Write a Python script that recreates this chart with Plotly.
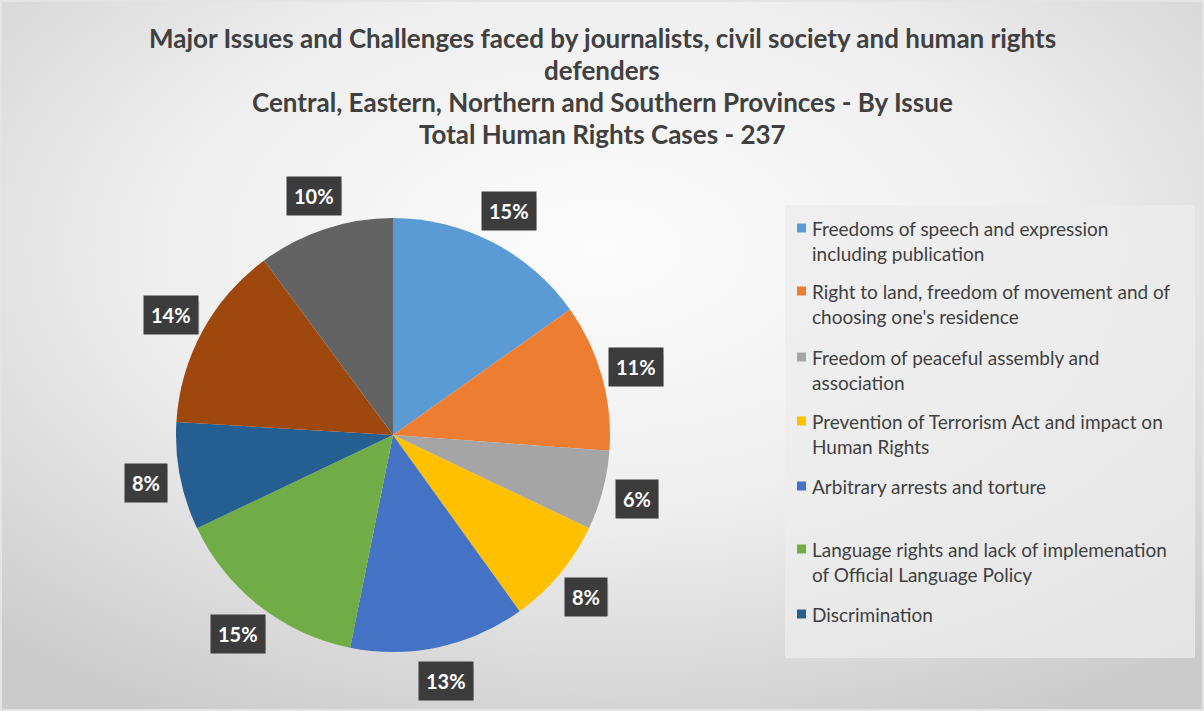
import math
import base64
import plotly.graph_objects as go

# ---------------- data ----------------
categories = [
    "Freedoms of speech and expression including publication",
    "Right to land, freedom of movement and of choosing one's residence",
    "Freedom of peaceful assembly and association",
    "Prevention of Terrorism Act and impact on Human Rights",
    "Arbitrary arrests and torture",
    "Language rights and lack of implemenation of Official Language Policy",
    "Discrimination",
    "Other issue 8",
    "Other issue 9",
]
cases = [36, 26, 14, 19, 31, 35, 19, 33, 24]
colors = ["#5B9BD5", "#ED7D31", "#A5A5A5", "#FFC000", "#4472C4",
          "#70AD47", "#255E91", "#9E480E", "#636363"]
legend_texts = [
    "Freedoms of speech and expression<br>including publication",
    "Right to land, freedom of movement and of<br>choosing one's residence",
    "Freedom of peaceful assembly and<br>association",
    "Prevention of Terrorism Act and impact on<br>Human Rights",
    "Arbitrary arrests and torture",
    "Language rights and lack of implemenation<br>of Official Language Policy",
    "Discrimination",
]
title_lines = [
    "Major Issues and Challenges faced by journalists, civil society and human rights",
    "defenders",
    "Central, Eastern, Northern and Southern Provinces - By Issue",
    "Total Human Rights Cases - 237",
]

W, H = 1204, 711
FONT = "Lato"

# pie geometry (pixels)
cx, cy, R = 393, 435, 217
dom_x = [(cx - R) / W, (cx + R) / W]
dom_y = [1 - (cy + R) / H, 1 - (cy - R) / H]

fig = go.Figure()
fig.add_trace(go.Pie(
    labels=categories, values=cases, sort=False, direction="clockwise",
    rotation=0, marker=dict(colors=colors, line=dict(color="white", width=0)),
    textinfo="none", hoverinfo="label+value+percent", showlegend=False,
    domain=dict(x=dom_x, y=dom_y),
))

# background radial gradient
svg = f'''<svg xmlns="http://www.w3.org/2000/svg" width="{W}" height="{H}">
<defs><radialGradient id="g" cx="50%" cy="35%" r="75%">
<stop offset="0%" stop-color="#fcfcfc"/>
<stop offset="50%" stop-color="#eeeeee"/>
<stop offset="100%" stop-color="#cbcbcb"/>
</radialGradient></defs>
<rect width="{W}" height="{H}" fill="url(#g)"/>
<rect x="1" y="1" width="{W-2}" height="{H-2}" fill="none" stroke="#e4e4e4" stroke-width="2"/>
</svg>'''
src = "data:image/svg+xml;base64," + base64.b64encode(svg.encode()).decode()

annotations = []
shapes = []

# title lines
ty = [38, 70, 102, 134]
for t, y in zip(title_lines, ty):
    annotations.append(dict(text=t, x=602 / W, y=1 - y / H, xref="paper", yref="paper",
                            xanchor="center", yanchor="middle", showarrow=False,
                            font=dict(family=FONT, size=26, color="#404040", weight="bold")))

# data labels
total = sum(cases)
cum = 0
for v in cases:
    mid = (cum + v / 2) / total * 2 * math.pi
    cum += v
    lr = 252
    px = cx + lr * math.sin(mid)
    py = cy - lr * math.cos(mid)
    pct = f"{round(100 * v / total)}%"
    hw = 25 if len(pct) == 3 else 19
    hh = 16
    # soft shadow behind the label box
    shapes.append(dict(type="rect", xref="paper", yref="paper",
                       x0=(px - hw + 3) / W, x1=(px + hw + 3) / W,
                       y0=1 - (py + hh + 3) / H, y1=1 - (py - hh + 3) / H,
                       fillcolor="rgba(0,0,0,0.14)", line=dict(width=0)))
    annotations.append(dict(text=pct, x=px / W, y=1 - py / H, xref="paper", yref="paper",
                            showarrow=False, xanchor="center", yanchor="middle",
                            bgcolor="#3c3c3c", borderpad=7,
                            font=dict(family=FONT, size=20, color="white", weight="bold")))

# legend box
shapes.append(dict(type="rect", xref="paper", yref="paper", x0=785 / W, x1=1195 / W,
                   y0=1 - 658 / H, y1=1 - 205 / H, fillcolor="rgba(236,236,236,0.75)",
                   line=dict(width=0), layer="below"))
entry_y = [228, 291, 357, 421, 486, 549, 614]
for txt, y, c in zip(legend_texts, entry_y, colors):
    shapes.append(dict(type="rect", xref="paper", yref="paper",
                       x0=797 / W, x1=806 / W, y0=1 - (y + 4.5) / H, y1=1 - (y - 4.5) / H,
                       fillcolor=c, line=dict(width=0)))
    annotations.append(dict(text=txt, x=810 / W, y=1 - (y - 13) / H, xref="paper", yref="paper",
                            xanchor="left", yanchor="top", align="left", showarrow=False,
                            font=dict(family=FONT, size=19, color="#404040")))

fig.update_layout(
    width=W, height=H, margin=dict(l=0, r=0, t=0, b=0),
    paper_bgcolor="#e6e6e6", plot_bgcolor="rgba(0,0,0,0)",
    images=[dict(source=src, xref="paper", yref="paper", x=0, y=1, sizex=1, sizey=1,
                 sizing="stretch", xanchor="left", yanchor="top", layer="below")],
    annotations=annotations, shapes=shapes, showlegend=False,
)

fig.write_html("out.html", config={"displayModeBar": False},
               post_script="document.body.style.margin='0';document.body.style.overflow='hidden';")
